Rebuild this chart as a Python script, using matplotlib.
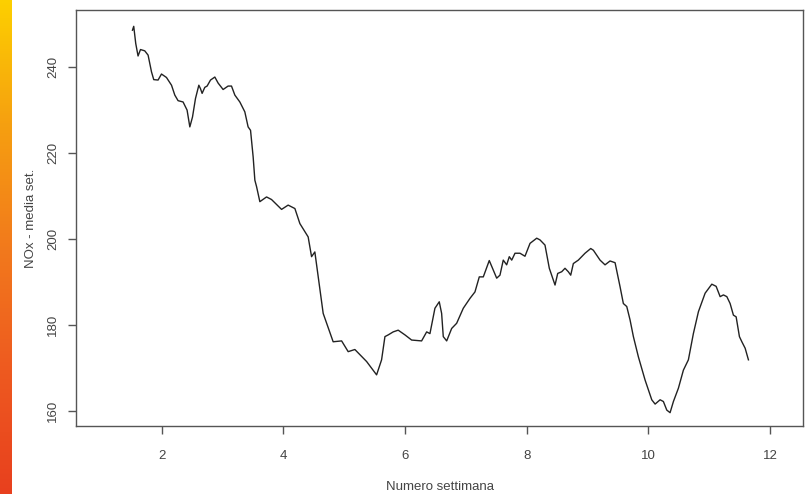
import numpy as np
import matplotlib
matplotlib.use("Agg")
import matplotlib.pyplot as plt
from matplotlib.colors import LinearSegmentedColormap

# ---- data ----
weeks = [1.518, 1.539, 1.572, 1.610, 1.650, 1.720, 1.775, 1.831, 1.868, 1.939,
         1.995, 2.077, 2.160, 2.214, 2.268, 2.350, 2.416, 2.461, 2.505, 2.554,
         2.609, 2.636, 2.663, 2.707, 2.745, 2.801, 2.872, 2.926, 3.008, 3.090,
         3.146, 3.201, 3.283, 3.365, 3.419, 3.459, 3.502, 3.530, 3.558, 3.600,
         3.612, 3.722, 3.804, 3.969, 4.077, 4.188, 4.270, 4.406, 4.462, 4.516,
         4.571, 4.653, 4.817, 4.956, 5.064, 5.174, 5.367, 5.531, 5.613, 5.668,
         5.722, 5.804, 5.886, 5.997, 6.107, 6.271, 6.354, 6.408, 6.490, 6.561,
         6.600, 6.627, 6.683, 6.765, 6.847, 6.956, 7.066, 7.148, 7.219, 7.285,
         7.383, 7.449, 7.505, 7.559, 7.613, 7.669, 7.712, 7.752, 7.806, 7.888,
         7.970, 8.053, 8.163, 8.217, 8.299, 8.370, 8.436, 8.464, 8.508, 8.574,
         8.628, 8.682, 8.722, 8.765, 8.847, 8.957, 9.051, 9.094, 9.204, 9.286,
         9.368, 9.451, 9.533, 9.587, 9.643, 9.697, 9.752, 9.834, 9.944, 10.054,
         10.109, 10.191, 10.245, 10.301, 10.355, 10.410, 10.492, 10.574, 10.656, 10.738,
         10.821, 10.931, 11.041, 11.112, 11.178, 11.232, 11.288, 11.342, 11.396, 11.441,
         11.495, 11.535, 11.589, 11.643]
nox = [248.6, 249.5, 245.5, 242.6, 244.1, 243.8, 242.8, 238.9, 237.1, 237.0,
       238.4, 237.6, 235.8, 233.5, 232.2, 231.9, 230.0, 226.1, 228.4, 232.7,
       235.8, 235.0, 233.9, 235.3, 235.6, 237.0, 237.7, 236.3, 234.8, 235.6,
       235.6, 233.5, 231.9, 229.6, 226.1, 225.3, 219.1, 213.7, 212.2, 209.5,
       208.7, 209.8, 209.2, 206.9, 207.9, 207.1, 203.6, 200.5, 195.9, 197.0,
       191.2, 182.7, 176.1, 176.3, 173.8, 174.3, 171.5, 168.4, 171.9, 177.3,
       177.7, 178.4, 178.8, 177.7, 176.5, 176.3, 178.4, 178.0, 183.9, 185.4,
       182.7, 177.3, 176.3, 179.2, 180.4, 183.9, 186.2, 187.7, 191.2, 191.2,
       195.0, 192.8, 190.9, 191.6, 195.1, 194.0, 195.9, 195.1, 196.7, 196.7,
       196.0, 199.0, 200.2, 199.8, 198.6, 193.2, 190.5, 189.3, 192.0, 192.4,
       193.2, 192.4, 191.6, 194.3, 195.1, 196.7, 197.8, 197.4, 195.1, 194.0,
       194.9, 194.5, 188.9, 185.0, 184.3, 181.2, 177.3, 172.6, 167.2, 162.6,
       161.6, 162.6, 162.2, 160.2, 159.6, 162.2, 165.3, 169.5, 171.9, 178.0,
       183.1, 187.4, 189.5, 189.0, 186.6, 187.0, 186.6, 185.0, 182.3, 181.9,
       177.3, 176.1, 174.6, 171.9]
xticks = [2, 4, 6, 8, 10, 12]
yticks = [160, 180, 200, 220, 240]
xlabel = "Numero settimana"
ylabel = "NOx - media set."

W, H = 810, 494
plt.rcParams['font.family'] = ['Liberation Sans', 'DejaVu Sans']
fig = plt.figure(figsize=(W / 100, H / 100), dpi=100)
fig.patch.set_facecolor("white")

# gradient strip on the left edge
gax = fig.add_axes([0, 0, 12 / W, 1])
cmap = LinearSegmentedColormap.from_list(
    "strip", ["#FDD000", "#F6A010", "#F27A1C", "#EE5A20", "#E8401E"])
grad = np.linspace(0, 1, 256).reshape(-1, 1)
gax.imshow(grad, aspect="auto", cmap=cmap, extent=[0, 1, 0, 1], origin="upper")
gax.set_axis_off()

left, right, top, bottom = 76, 803, 10, 426
ax = fig.add_axes([left / W, 1 - bottom / H, (right - left) / W, (bottom - top) / H])
ax.plot(weeks, nox, color="#222222", linewidth=1.0)

ax.set_xlim(0.59, 12.54)
ax.set_ylim(156.5, 253.3)
ax.set_xticks(xticks)
ax.set_yticks(yticks)
ax.set_xticklabels([str(t) for t in xticks])
ax.set_yticklabels([str(t) for t in yticks], rotation=90, va="center")

for s in ax.spines.values():
    s.set_color("#555555")
    s.set_linewidth(1.0)
ax.tick_params(axis="both", direction="out", length=6, width=1.0,
               color="#555555", labelcolor="#444444", labelsize=9.5)
ax.tick_params(axis="x", pad=11)
ax.tick_params(axis="y", pad=6)

ax.set_xlabel(xlabel, fontsize=9.5, color="#444444", labelpad=14)
ax.set_ylabel(ylabel, fontsize=9.5, color="#444444")
ax.yaxis.set_label_coords((37 - left) / (right - left), 0.5)

fig.savefig("out.png", dpi=100, facecolor="white")
